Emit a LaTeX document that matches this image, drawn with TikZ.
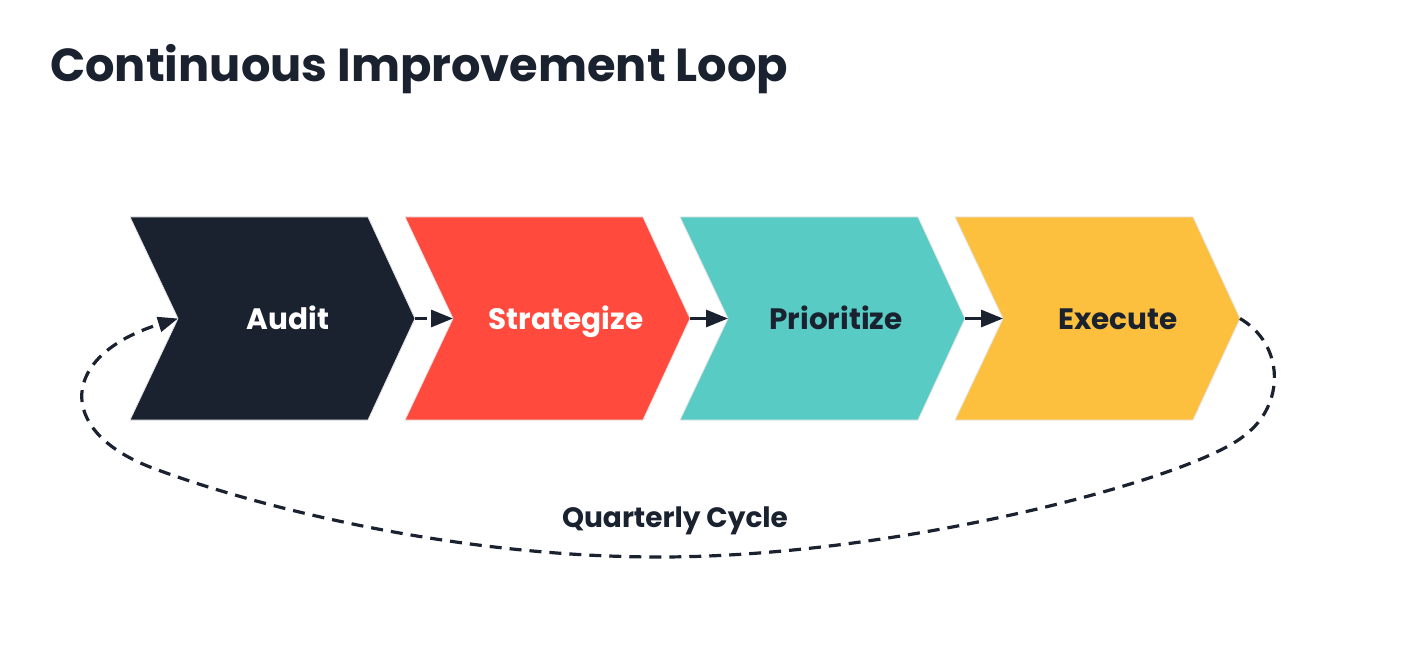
\documentclass[tikz,border=0pt]{standalone}
\usepackage{fontspec}
\setmainfont{Poppins}[BoldFont={Poppins Bold}]
\usetikzlibrary{arrows.meta}
\definecolor{dk}{HTML}{1A2230}
\definecolor{rd}{HTML}{FF4A3D}
\definecolor{tl}{HTML}{57CBC4}
\definecolor{yl}{HTML}{FDBF3E}
\tikzset{
  chev/.style={draw=black!10, line width=0.8pt},
  lbl/.style={font=\bfseries\fontsize{29.5}{33}\selectfont, anchor=base},
  flow/.style={-{Triangle[length=22pt,width=17pt]}, line width=3pt, draw=dk},
  loopline/.style={-{Triangle[length=20pt,width=15pt]}, line width=3.2pt, draw=dk, dash pattern=on 12pt off 8pt},
}
\begin{document}
\begin{tikzpicture}[x=1pt,y=-1pt]
\useasboundingbox (0,0) rectangle (1408,660);
\fill[white] (0,0) rectangle (1408,660);
\node[anchor=base west, text=dk, font=\bfseries\fontsize{46.3}{50}\selectfont, inner sep=0pt] (title) at (50,82) {Continuous Improvement Loop};
\foreach \n/\L/\c in {a/130/dk, s/405/rd, p/680/tl, e/955/yl}{
  \fill[\c, chev] (\L,217) -- (\L+238,217) -- (\L+285,318.5) -- (\L+238,420) -- (\L,420) -- (\L+48,318.5) -- cycle;
  \coordinate (\n-tip) at (\L+285,318.5);
  \coordinate (\n-notch) at (\L+48,318.5);
}
\node[lbl, text=white] (audit) at (288,329) {Audit};
\node[lbl, text=white] (strat) at (566,329) {Strategize};
\node[lbl, text=dk] (prio) at (836,329) {Prioritize};
\node[lbl, text=dk] (exec) at (1118,329) {Execute};
\draw[flow, dash pattern=on 12pt off 5pt] (a-tip) -- (s-notch);
\draw[flow] (s-tip) -- (p-notch);
\draw[flow] (p-tip) -- (e-notch);
\draw[loopline] (e-tip) .. controls (1285,345) and (1285,405) .. (1245,435)
  .. controls (1195,478) and (900,557) .. (660,557)
  .. controls (450,557) and (250,505) .. (150,467)
  .. controls (55,430) and (60,355) .. (a-notch);
\node[anchor=base, text=dk, font=\bfseries\fontsize{28}{32}\selectfont] (cycle) at (675,527) {Quarterly Cycle};
\end{tikzpicture}
\end{document}
